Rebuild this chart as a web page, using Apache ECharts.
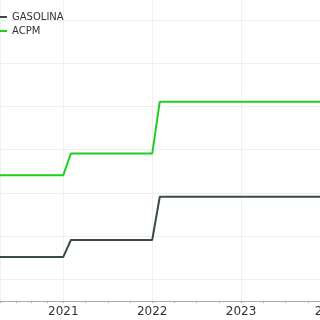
<!DOCTYPE html>
<html>
<head>
<meta charset="utf-8">
<script src="https://cdn.jsdelivr.net/npm/echarts@6/dist/echarts.min.js"></script>
<style>
html,body{margin:0;padding:0;background:#fff;}
#chart{width:320px;height:320px;}
</style>
</head>
<body>
<div id="chart"></div>
<script>
var dates = ['2020-01-01', '2021-01-01', '2021-02-01', '2022-01-01', '2022-02-01', '2024-06-01'];
var gasolina = [760, 760, 955, 955, 1455, 1455];
var acpm = [1705, 1705, 1955, 1955, 2555, 2555];
var seriesNames = ['GASOLINA', 'ACPM'];
var yearLabels = ['2021', '2022', '2023', '2024'];

function pairs(vals) {
  return dates.map(function (d, i) { return [d, vals[i]]; });
}

var chart = echarts.init(document.getElementById('chart'), null, {renderer: 'canvas'});
var YEAR = 365 * 24 * 3600 * 1000;
chart.setOption({
  animation: false,
  textStyle: {fontFamily: 'DejaVu Sans'},
  legend: {
    orient: 'vertical',
    left: -18,
    top: 7,
    itemWidth: 20,
    itemHeight: 2,
    itemGap: 4,
    icon: 'rect',
    textStyle: {fontSize: 10, color: '#333', fontFamily: 'DejaVu Sans'},
    data: seriesNames
  },
  grid: {left: 0, right: -20, top: 0, bottom: 19, containLabel: false, outerBoundsMode: 'none'},
  xAxis: {
    type: 'time',
    min: '2020-04-16',
    max: '2024-02-11',
    minInterval: YEAR,
    maxInterval: YEAR,
    axisLine: {show: true, lineStyle: {color: '#aaa', width: 1}},
    axisTick: {show: true, length: 2, lineStyle: {color: '#aaa'}},
    minorTick: {show: true, splitNumber: 4, length: 2, lineStyle: {color: '#aaa'}},
    axisLabel: {
      show: true,
      fontSize: 12,
      color: '#333',
      margin: 5,
      showMinLabel: false,
      showMaxLabel: false,
      hideOverlap: false,
      formatter: function (v) {
        var y = String(new Date(v).getFullYear());
        return yearLabels.indexOf(y) >= 0 ? y : '';
      }
    },
    splitLine: {show: true, lineStyle: {color: '#f0f0f0', width: 1}}
  },
  yAxis: {
    type: 'value',
    min: 250,
    max: 3730,
    minInterval: 500,
    maxInterval: 500,
    axisLine: {show: false},
    axisTick: {show: false},
    axisLabel: {show: false},
    splitLine: {show: true, showMaxLine: false, lineStyle: {color: '#f0f0f0', width: 1}}
  },
  series: [
    {
      name: seriesNames[0],
      type: 'line',
      showSymbol: false,
      symbol: 'none',
      color: '#3b4b47',
      lineStyle: {width: 2, color: '#3b4b47'},
      data: pairs(gasolina)
    },
    {
      name: seriesNames[1],
      type: 'line',
      showSymbol: false,
      symbol: 'none',
      color: '#1fcf1f',
      lineStyle: {width: 2, color: '#1fcf1f'},
      data: pairs(acpm)
    }
  ]
});
</script>
</body>
</html>
